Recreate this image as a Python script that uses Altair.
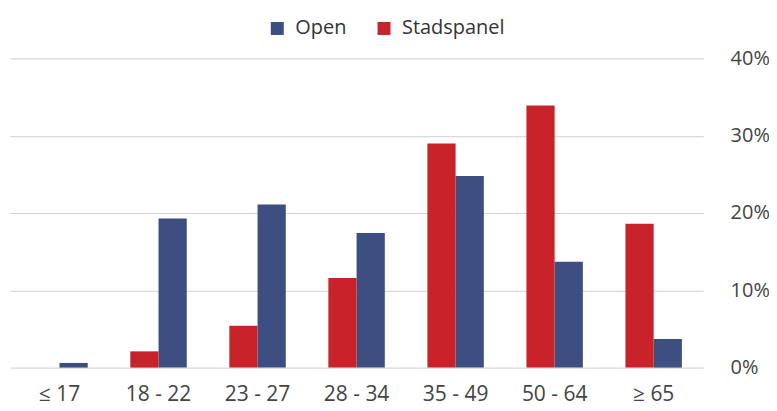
import altair as alt
import pandas as pd

categories = ["≤ 17", "18 - 22", "23 - 27", "28 - 34", "35 - 49", "50 - 64", "≥ 65"]
open_vals = [0.6, 19.3, 21.1, 17.4, 24.8, 13.7, 3.7]
stad_vals = [0.0, 2.1, 5.4, 11.6, 29.0, 33.9, 18.6]
series = ["Open", "Stadspanel"]
colors = ["#3d4f80", "#c8232b"]

rows = []
for c, o, s in zip(categories, open_vals, stad_vals):
    rows.append({"cat": c, "series": "Open", "value": o / 100})
    rows.append({"cat": c, "series": "Stadspanel", "value": s / 100})
df = pd.DataFrame(rows)

chart = alt.Chart(df).mark_bar().encode(
    x=alt.X("cat:N", sort=categories, title=None,
            scale=alt.Scale(paddingInner=0.43, paddingOuter=0.215),
            axis=alt.Axis(labelAngle=0, labelFontSize=21, labelColor="#444",
                          labelPadding=16, ticks=False, domain=False, grid=False,
                          labelFont="Open Sans")),
    xOffset=alt.XOffset("series:N", sort=["Stadspanel", "Open"],
                        scale=alt.Scale(paddingInner=0, paddingOuter=0)),
    y=alt.Y("value:Q", title=None,
            scale=alt.Scale(domain=[0, 0.4]),
            axis=alt.Axis(orient="right", format=".0%", values=[0, 0.1, 0.2, 0.3, 0.4],
                          labelFontSize=20, labelColor="#444", labelAlign="left",
                          labelPadding=27, ticks=False, domain=False,
                          gridColor="#cfcfcf", gridWidth=1, labelFont="Open Sans")),
    color=alt.Color("series:N",
                    scale=alt.Scale(domain=series, range=colors),
                    legend=alt.Legend(title=None, orient="none", direction="horizontal",
                                      legendX=258, legendY=-40, symbolType="square",
                                      symbolSize=169, labelFontSize=20, labelColor="#333",
                                      labelFont="Open Sans", columnPadding=27,
                                      labelOffset=8, symbolStrokeWidth=0)),
).properties(
    width=695, height=310,
    background="white",
    padding={"left": 2, "top": 50, "right": 66, "bottom": 43},
    autosize=alt.AutoSizeParams(type="none"),
).configure_view(stroke=None)

chart.save("out.html", embed_options={"renderer": "svg", "actions": False})
